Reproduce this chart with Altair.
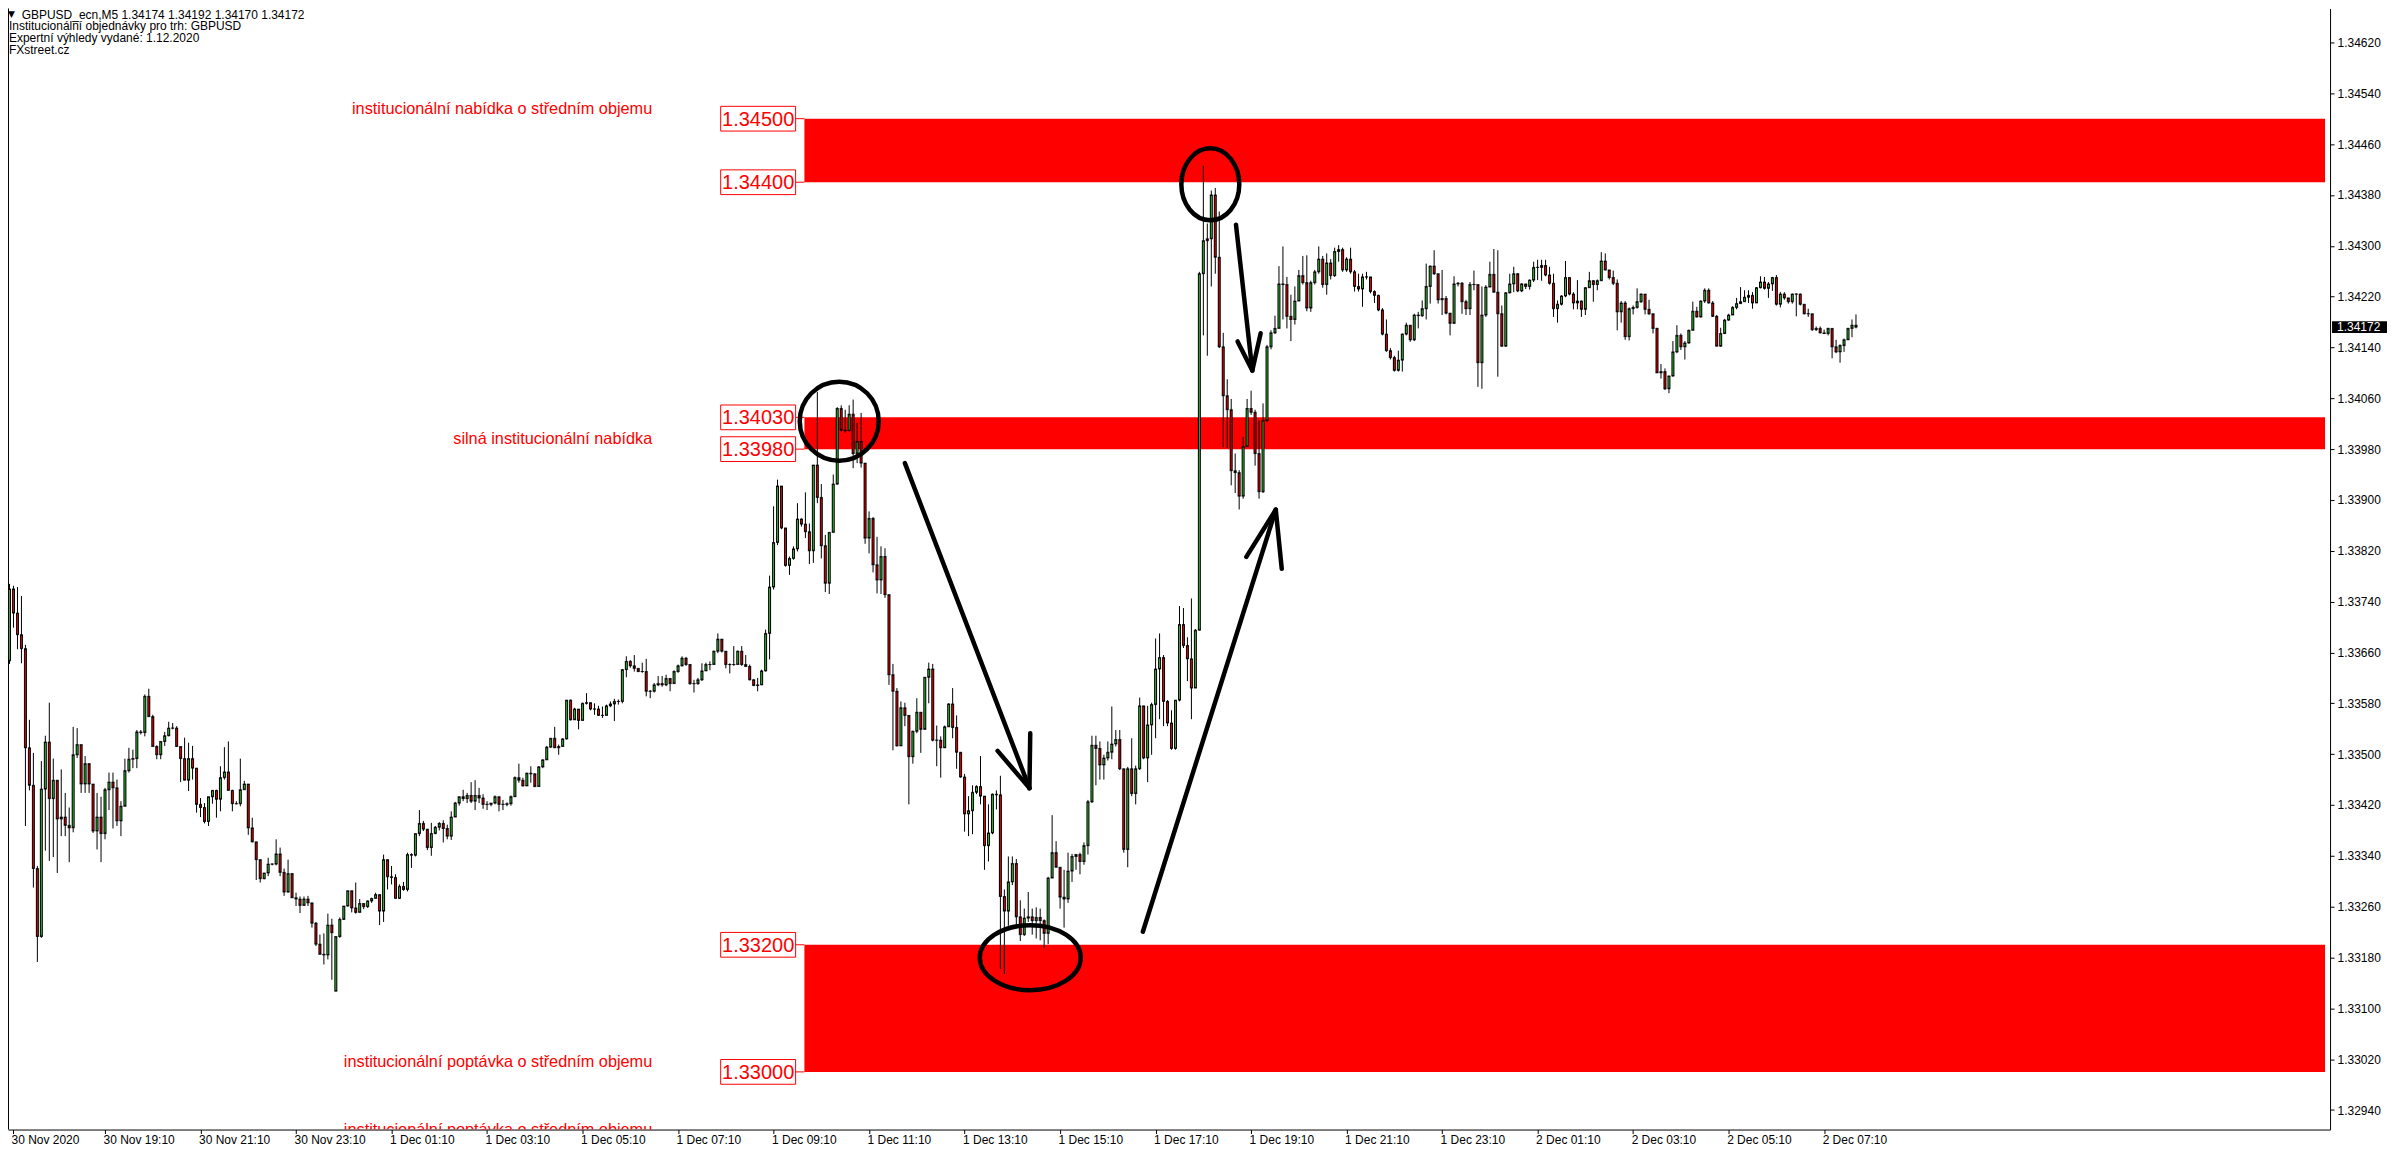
import json
import altair as alt
import pandas as pd

# ---------------- data (prices in 1e-5 units: 33760 -> 1.33760) ----------------
FIRST_OPEN = 33647
OPEN_GAPS = {82: 33127}

CLOSE = [
    33760, 33722, 33688, 33666, 33510, 33451, 33320, 33213, 33445, 33519,
    33430, 33459, 33398, 33401, 33388, 33384, 33499, 33515, 33453, 33485,
    33453, 33379, 33401, 33375, 33444, 33456, 33447, 33395, 33418, 33474,
    33492, 33493, 33535, 33534, 33591, 33559, 33512, 33499, 33520, 33529,
    33541, 33541, 33512, 33493, 33459, 33493, 33478, 33421, 33416, 33394,
    33433, 33443, 33429, 33463, 33472, 33443, 33422, 33422, 33444, 33453,
    33384, 33362, 33334, 33304, 33313, 33327, 33327, 33343, 33314, 33283,
    33312, 33274, 33272, 33262, 33272, 33266, 33234, 33201, 33185, 33184,
    33231, 33219, 33213, 33240, 33261, 33285, 33258, 33251, 33265, 33260,
    33269, 33273, 33279, 33253, 33334, 33307, 33306, 33273, 33292, 33287,
    33342, 33341, 33375, 33391, 33382, 33353, 33375, 33385, 33391, 33383,
    33371, 33401, 33423, 33433, 33430, 33435, 33426, 33435, 33431, 33421,
    33421, 33423, 33433, 33421, 33421, 33422, 33433, 33463, 33459, 33450,
    33470, 33469, 33449, 33480, 33491, 33511, 33525, 33510, 33512, 33524,
    33585, 33554, 33571, 33553, 33580, 33581, 33571, 33571, 33561, 33561,
    33576, 33579, 33583, 33583, 33633, 33646, 33639, 33635, 33630, 33630,
    33599, 33599, 33609, 33611, 33609, 33619, 33611, 33630, 33639, 33651,
    33641, 33611, 33611, 33617, 33631, 33641, 33641, 33662, 33681, 33662,
    33641, 33641, 33641, 33662, 33641, 33638, 33617, 33608, 33609, 33631,
    33690, 33763, 33833, 33922, 33856, 33797, 33808, 33823, 33870, 33862,
    33850, 33820, 33955, 33904, 33828, 33769, 33849, 33925, 34044, 34010,
    34009, 34035, 33973, 33992, 33958, 33840, 33871, 33798, 33774, 33811,
    33751, 33625, 33599, 33513, 33573, 33561, 33496, 33536, 33566, 33539,
    33621, 33634, 33522, 33522, 33510, 33543, 33579,
    33542, 33503, 33464, 33406, 33411, 33440, 33449, 33434, 33356, 33376,
    33437, 33436, 33276, 33253, 33299, 33328, 33244, 33216, 33242, 33244,
    33238, 33243, 33238, 33218, 33305, 33345, 33322, 33275, 33272, 33316,
    33339, 33342, 33331, 33356, 33425, 33514, 33509, 33483, 33494, 33503,
    33516, 33523,
    33477, 33350, 33477, 33438, 33477, 33576, 33494, 33546, 33578, 33634,
    33652, 33583, 33549, 33509, 33585, 33704, 33671, 33650, 33604, 33695,
    34256, 34308, 34311, 34380, 34282, 34141, 34064, 34042, 33946, 33943,
    33906, 33984, 34044, 34038, 33973, 33913, 34025, 34141, 34163, 34170,
    34240, 34239, 34189, 34184, 34213, 34253, 34242, 34202, 34242, 34259,
    34279, 34239, 34273, 34253, 34291, 34294, 34262, 34279, 34259, 34236,
    34232, 34251, 34251, 34228, 34222, 34199, 34161, 34135, 34124, 34104,
    34120,
    34161, 34175, 34152, 34191, 34190, 34201, 34236, 34268, 34256, 34215,
    34217, 34194, 34178, 34240, 34241, 34212, 34201, 34239, 34239, 34116,
    34191, 34235, 34255, 34227, 34193, 34142, 34226, 34240, 34256, 34229,
    34240, 34236, 34246, 34266, 34266, 34269, 34254, 34241, 34201, 34208,
    34221, 34250, 34224, 34210, 34213, 34200, 34234, 34245, 34239, 34245,
    34276, 34262, 34250, 34241, 34196, 34210, 34157, 34201, 34203, 34212,
    34224, 34200, 34193, 34170, 34100, 34102, 34075, 34095, 34133, 34159,
    34141, 34147, 34167, 34197, 34188, 34213, 34230, 34210, 34189, 34142,
    34162, 34183, 34191, 34203, 34209, 34212, 34219, 34222, 34210, 34234,
    34243, 34233, 34240, 34250, 34208, 34224, 34218, 34212, 34224, 34224,
    34208, 34193, 34193, 34168, 34170, 34163, 34162, 34170, 34141, 34133,
    34143, 34152, 34170, 34175, 34172,
]

HIGH = [
    33768, 33765, 33763, 33749, 33672, 33554, 33502, 33324, 33489, 33529,
    33581, 33493, 33459, 33476, 33439, 33416, 33543, 33541, 33511, 33497,
    33486, 33452, 33439, 33433, 33447, 33471, 33471, 33460, 33426, 33493,
    33510, 33507, 33538, 33538, 33594, 33603, 33562, 33514, 33520, 33535,
    33551, 33549, 33544, 33512, 33526, 33518, 33513, 33478, 33431, 33423,
    33433, 33443, 33444, 33481, 33511, 33520, 33444, 33426, 33493, 33458,
    33453, 33400, 33361, 33333, 33313, 33337, 33328, 33366, 33353, 33320,
    33334, 33313, 33282, 33276, 33276, 33277, 33265, 33236, 33216, 33218,
    33249, 33241, 33213, 33243, 33261, 33285, 33285, 33298, 33272, 33265,
    33270, 33274, 33282, 33279, 33342, 33329, 33324, 33311, 33295, 33299,
    33345, 33344, 33375, 33412, 33395, 33379, 33392, 33387, 33393, 33396,
    33389, 33410, 33425, 33433, 33444, 33439, 33456, 33459, 33447, 33437,
    33426, 33423, 33435, 33433, 33428, 33424, 33435, 33465, 33485, 33463,
    33471, 33481, 33470, 33481, 33492, 33513, 33525, 33543, 33515, 33525,
    33585, 33586, 33573, 33570, 33581, 33596, 33581, 33580, 33576, 33575,
    33578, 33583, 33587, 33586, 33634, 33654, 33648, 33656, 33635, 33644,
    33650, 33601, 33612, 33623, 33623, 33625, 33620, 33632, 33641, 33654,
    33653, 33642, 33617, 33620, 33643, 33644, 33646, 33663, 33690, 33681,
    33662, 33643, 33670, 33663, 33670, 33656, 33641, 33618, 33620, 33633,
    33696, 33781, 33890, 33932, 33921, 33854, 33811, 33827, 33895, 33871,
    33912, 33863, 33955, 34070, 33925, 33845, 33849, 33940, 34046, 34049,
    34042, 34049, 34058, 34021, 34037, 33958, 33882, 33873, 33842, 33827,
    33824, 33751, 33642, 33604, 33583, 33581, 33545, 33537, 33588, 33566,
    33621, 33644, 33642, 33545, 33528, 33545, 33580,
    33604, 33561, 33503, 33469, 33434, 33451, 33451, 33497, 33434, 33421,
    33438, 33443, 33466, 33287, 33339, 33339, 33335, 33270, 33257, 33283,
    33257, 33259, 33257, 33240, 33307, 33404, 33363, 33322, 33318, 33345,
    33343, 33343, 33345, 33361, 33428, 33529, 33529, 33520, 33499, 33520,
    33575, 33538,
    33538, 33477, 33480, 33525, 33482, 33589, 33576, 33576, 33581, 33682,
    33690, 33656, 33585, 33569, 33585, 33733, 33730, 33684, 33745, 33697,
    34259, 34426, 34335, 34387, 34391, 34354, 34163, 34090, 34059, 33973,
    33947, 33999, 34059, 34072, 34042, 34025, 34052, 34144, 34167, 34190,
    34268, 34299, 34251, 34223, 34236, 34262, 34284, 34285, 34245, 34262,
    34299, 34284, 34288, 34279, 34297, 34301, 34297, 34282, 34297, 34262,
    34256, 34256, 34259, 34251, 34230, 34223, 34202, 34184, 34139, 34127,
    34135,
    34162, 34179, 34175, 34193, 34196, 34214, 34272, 34269, 34293, 34252,
    34262, 34221, 34194, 34252, 34243, 34243, 34215, 34243, 34261, 34238,
    34236, 34238, 34275, 34295, 34293, 34206, 34227, 34256, 34267, 34257,
    34241, 34240, 34247, 34275, 34278, 34278, 34278, 34267, 34256, 34214,
    34222, 34276, 34250, 34227, 34246, 34214, 34235, 34259, 34246, 34247,
    34290, 34288, 34262, 34261, 34247, 34213, 34213, 34203, 34206, 34233,
    34225, 34224, 34215, 34193, 34171, 34114, 34107, 34096, 34150, 34175,
    34162, 34150, 34168, 34212, 34204, 34214, 34233, 34233, 34213, 34191,
    34171, 34185, 34193, 34205, 34218, 34235, 34230, 34230, 34227, 34235,
    34252, 34251, 34243, 34251, 34254, 34227, 34227, 34218, 34225, 34225,
    34225, 34206, 34201, 34192, 34173, 34173, 34168, 34171, 34170, 34152,
    34145, 34154, 34171, 34184, 34192,
]

LOW = [
    33642, 33699, 33665, 33643, 33387, 33443, 33290, 33173, 33211, 33348,
    33332, 33338, 33313, 33371, 33371, 33330, 33377, 33494, 33439, 33439,
    33439, 33376, 33350, 33330, 33366, 33412, 33383, 33387, 33371, 33418,
    33471, 33478, 33478, 33531, 33528, 33559, 33512, 33492, 33492, 33513,
    33528, 33539, 33512, 33456, 33459, 33442, 33460, 33408, 33401, 33391,
    33387, 33422, 33400, 33410, 33460, 33443, 33410, 33421, 33418, 33444,
    33373, 33361, 33302, 33298, 33303, 33308, 33325, 33325, 33308, 33277,
    33282, 33274, 33261, 33250, 33261, 33261, 33227, 33198, 33185, 33169,
    33177, 33145, 33127, 33211, 33239, 33260, 33251, 33249, 33253, 33256,
    33258, 33266, 33273, 33231, 33236, 33287, 33295, 33273, 33272, 33285,
    33284, 33321, 33339, 33371, 33379, 33349, 33340, 33374, 33380, 33361,
    33366, 33365, 33401, 33419, 33426, 33423, 33423, 33412, 33423, 33414,
    33412, 33418, 33421, 33410, 33412, 33418, 33419, 33433, 33455, 33449,
    33450, 33455, 33448, 33449, 33478, 33491, 33510, 33510, 33499, 33512,
    33523, 33553, 33554, 33539, 33553, 33578, 33569, 33562, 33560, 33557,
    33565, 33574, 33552, 33578, 33580, 33621, 33636, 33630, 33629, 33628,
    33591, 33588, 33597, 33607, 33606, 33607, 33599, 33611, 33628, 33638,
    33639, 33609, 33597, 33609, 33615, 33632, 33632, 33641, 33659, 33660,
    33635, 33627, 33639, 33641, 33639, 33637, 33616, 33607, 33599, 33609,
    33630, 33649, 33759, 33829, 33854, 33795, 33782, 33806, 33819, 33858,
    33840, 33799, 33801, 33895, 33808, 33755, 33752, 33849, 33924, 34008,
    34006, 34008, 33950, 33958, 33951, 33831, 33816, 33786, 33753, 33752,
    33746, 33609, 33506, 33512, 33513, 33544, 33421, 33485, 33533, 33502,
    33539, 33580, 33520, 33481, 33463, 33510, 33543,
    33525, 33477, 33463, 33378, 33371, 33374, 33437, 33421, 33318, 33331,
    33374, 33413, 33162, 33154, 33230, 33294, 33231, 33206, 33214, 33236,
    33216, 33210, 33207, 33195, 33201, 33305, 33322, 33257, 33227, 33266,
    33299, 33318, 33311, 33326, 33342, 33423, 33451, 33460, 33460, 33490,
    33492, 33512,
    33475, 33345, 33322, 33434, 33421, 33475, 33492, 33456, 33499, 33525,
    33555, 33544, 33544, 33507, 33507, 33583, 33667, 33615, 33555, 33604,
    33695, 34159, 34127, 34236, 34256, 34139, 33983, 33982, 33923, 33911,
    33885, 33902, 33984, 34034, 33954, 33902, 33911, 34023, 34137, 34161,
    34170, 34184, 34170, 34150, 34176, 34213, 34239, 34197, 34196, 34239,
    34256, 34234, 34223, 34247, 34251, 34275, 34259, 34259, 34256, 34228,
    34228, 34204, 34247, 34225, 34210, 34197, 34159, 34133, 34121, 34102,
    34102,
    34102, 34159, 34149, 34150, 34170, 34188, 34184, 34209, 34254, 34209,
    34191, 34192, 34159, 34177, 34236, 34193, 34191, 34191, 34230, 34078,
    34075, 34188, 34240, 34226, 34094, 34141, 34141, 34225, 34227, 34227,
    34227, 34232, 34231, 34243, 34246, 34245, 34252, 34239, 34188, 34179,
    34206, 34219, 34222, 34200, 34200, 34188, 34191, 34238, 34212, 34230,
    34245, 34261, 34247, 34238, 34167, 34179, 34152, 34151, 34192, 34201,
    34210, 34192, 34191, 34162, 34100, 34091, 34073, 34068, 34094, 34131,
    34136, 34121, 34146, 34167, 34187, 34187, 34210, 34209, 34188, 34142,
    34141, 34161, 34182, 34191, 34200, 34210, 34212, 34210, 34201, 34210,
    34233, 34231, 34218, 34229, 34206, 34203, 34215, 34209, 34209, 34189,
    34206, 34192, 34188, 34166, 34166, 34162, 34161, 34159, 34123, 34131,
    34116, 34133, 34152, 34156, 34170,
]

X_LABELS = [
    "30 Nov 2020", "30 Nov 19:10", "30 Nov 21:10", "30 Nov 23:10",
    "1 Dec 01:10", "1 Dec 03:10", "1 Dec 05:10", "1 Dec 07:10",
    "1 Dec 09:10", "1 Dec 11:10", "1 Dec 13:10", "1 Dec 15:10",
    "1 Dec 17:10", "1 Dec 19:10", "1 Dec 21:10", "1 Dec 23:10",
    "2 Dec 01:10", "2 Dec 03:10", "2 Dec 05:10", "2 Dec 07:10",
]
Y_TICKS = [
    1.32940, 1.33020, 1.33100, 1.33180, 1.33260, 1.33340, 1.33420, 1.33500,
    1.33580, 1.33660, 1.33740, 1.33820, 1.33900, 1.33980, 1.34060, 1.34140,
    1.34220, 1.34300, 1.34380, 1.34460, 1.34540, 1.34620,
]

ZONE_LO = [1.33000, 1.33980, 1.34400]
ZONE_HI = [1.33200, 1.34030, 1.34500]
ZONE_START = 199.75

EDGE_PRICES = [1.34500, 1.34400, 1.34030, 1.33980, 1.33200, 1.33000]
EDGE_TEXT = ["1.34500", "1.34400", "1.34030", "1.33980", "1.33200", "1.33000"]

ZONE_LABELS = [
    "institucionální nabídka o středním objemu",
    "silná institucionální nabídka",
    "institucionální poptávka o středním objemu",
    "institucionální poptávka o středním objemu",
]
ZONE_LABEL_PRICES = [1.34500, 1.33980, 1.33000, 1.32893]

ELLIPSE_X = [208.5, 301.75, 256.5]
ELLIPSE_P = [1.34024, 1.343967, 1.331797]
ELLIPSE_RX = [39.5, 29.0, 50.5]
ELLIPSE_RY = [39.5, 36.0, 32.5]

# arrow segments (shaft + two head strokes for each arrow), in bar index / price
SEG_X1 = [225.0, 248.3, 256.5, 284.8, 310.8, 319.7, 308.2, 308.6, 314.4]
SEG_P1 = [1.339580, 1.335052, 1.335329, 1.332206, 1.338105, 1.337917, 1.343332, 1.341495, 1.341624]
SEG_X2 = [256.3, 256.3, 256.3, 318.2, 318.2, 318.2, 312.3, 312.3, 312.3]
SEG_P2 = [1.334465, 1.334465, 1.334465, 1.338847, 1.338847, 1.338847, 1.341038, 1.341038, 1.341038]

LAST_PRICE = 1.34172
LAST_TEXT = "1.34172"

HEADER = [
    "GBPUSD_ecn,M5  1.34174 1.34192 1.34170 1.34172",
    "Institucionální objednávky pro trh: GBPUSD",
    "Expertní výhledy vydané: 1.12.2020",
    "FXstreet.cz",
]

GREEN = "#30B430"
RED = "#E00000"

# ---------------- layout ----------------
W, H = 2324, 1122
X_DOMAIN = [0.875, 581.875]
Y_DOMAIN = [1.3290928, 1.3467343]
xs = alt.Scale(domain=X_DOMAIN, nice=False, zero=False)
ys = alt.Scale(domain=Y_DOMAIN, nice=False, zero=False)

x_axis = alt.Axis(
    values=[0.875] + [24 * k for k in range(1, len(X_LABELS))],
    labelExpr=json.dumps(X_LABELS) + "[round(datum.value / 24)]",
    title=None, grid=False, orient="bottom", labelAlign="left", labelBaseline="top",
    tickSize=4, labelPadding=1, labelOffset=-2, labelFlush=False, labelOverlap=False,
    labelBound=False,
)
y_axis = alt.Axis(
    values=Y_TICKS, format=".5f", orient="right", title=None, grid=False,
    tickSize=4, labelPadding=3, labelFlush=False, labelOverlap=False, labelBound=False,
)


def X(f):
    return alt.X(f, type="quantitative", scale=xs, axis=x_axis)


def Y(f):
    return alt.Y(f, type="quantitative", scale=ys, axis=y_axis)


# ---------------- candle table ----------------
n = min(len(CLOSE), len(HIGH), len(LOW))
rows = []
for k in range(n):
    if k == 0:
        o = FIRST_OPEN
    elif k in OPEN_GAPS:
        o = OPEN_GAPS[k]
    else:
        o = CLOSE[k - 1]
    c = CLOSE[k]
    po, pc = 1 + o / 1e5, 1 + c / 1e5
    ph, pl = 1 + HIGH[k] / 1e5, 1 + LOW[k] / 1e5
    rows.append({
        "i": k, "o": po, "c": pc,
        "hi": max(ph, po, pc), "lo": min(pl, po, pc),
        "top": max(po, pc), "bot": min(po, pc),
        "col": GREEN if c > o else (RED if c < o else "black"),
    })
cdf = pd.DataFrame(rows)

zones = pd.DataFrame({"x1": [ZONE_START] * 3, "x2": [X_DOMAIN[1]] * 3, "lo": ZONE_LO, "hi": ZONE_HI})
edges = pd.DataFrame({"p": EDGE_PRICES, "t": EDGE_TEXT, "xa": [197.5] * 6, "xb": [ZONE_START] * 6,
                      "xc": [188.125] * 6})
zlab = pd.DataFrame({"p": ZONE_LABEL_PRICES, "t": ZONE_LABELS, "x": [161.5] * 4})


def ellipse_path(rx, ry):
    r = max(rx, ry)
    a, b = rx / r, ry / r
    return f"M{-a},0A{a},{b},0,1,1,{a},0A{a},{b},0,1,1,{-a},0Z"


ell = pd.DataFrame({
    "x": ELLIPSE_X, "p": ELLIPSE_P,
    "shape": [ellipse_path(rx, ry) for rx, ry in zip(ELLIPSE_RX, ELLIPSE_RY)],
    "size": [(2 * max(rx, ry)) ** 2 for rx, ry in zip(ELLIPSE_RX, ELLIPSE_RY)],
})
segs = pd.DataFrame({"x1": SEG_X1, "p1": SEG_P1, "x2": SEG_X2, "p2": SEG_P2})

BOX_PATH = "M-1,-0.33L1,-0.33L1,0.33L-1,0.33Z"
PBOX_PATH = "M-1,-0.21L1,-0.21L1,0.21L-1,0.21Z"
LAB_FONT = "Liberation Sans"

# ---------------- layers ----------------
zone_layer = alt.Chart(zones).mark_rect(color="#FF0000").encode(
    x=X("x1"), x2=alt.X2("x2"), y=Y("lo"), y2=alt.Y2("hi"))

conn_layer = alt.Chart(edges).mark_rule(color="#FF0000", strokeWidth=1).encode(
    x=X("xa"), x2=alt.X2("xb"), y=Y("p"))

box_layer = alt.Chart(edges).mark_point(
    shape=BOX_PATH, size=5625, filled=True, fill="white", stroke="#FF0000",
    strokeWidth=1, opacity=1).encode(x=X("xc"), y=Y("p"))

box_text = alt.Chart(edges).mark_text(
    font=LAB_FONT, fontSize=20, color="#FF0000", align="center", baseline="middle", dy=1
).encode(x=X("xc"), y=Y("p"), text="t:N")

zone_text = alt.Chart(zlab).mark_text(
    font=LAB_FONT, fontSize=16.3, color="#FF0000", align="right", baseline="alphabetic",
    dy=-5, clip=True).encode(x=X("x"), y=Y("p"), text="t:N")

wick = alt.Chart(cdf).mark_rule(color="black", strokeWidth=1).encode(
    x=X("i"), y=Y("lo"), y2=alt.Y2("hi"))

body = alt.Chart(cdf).mark_bar(size=3, color="black").encode(
    x=X("i"), y=Y("top"), y2=alt.Y2("bot"))

inner = alt.Chart(cdf).transform_filter("datum.top - datum.bot > 0.00004").mark_bar(
    size=1, yOffset=1, y2Offset=-1).encode(
    x=X("i"), y=Y("top"), y2=alt.Y2("bot"), color=alt.Color("col:N", scale=None))

tick_o = alt.Chart(cdf).mark_tick(orient="horizontal", size=3, thickness=1, color="black").encode(
    x=X("i"), y=Y("o"))
tick_c = alt.Chart(cdf).mark_tick(orient="horizontal", size=3, thickness=1, color="black").encode(
    x=X("i"), y=Y("c"))

ell_layer = alt.Chart(ell).mark_point(
    filled=False, stroke="black", strokeWidth=4.5, opacity=1).encode(
    x=X("x"), y=Y("p"), shape=alt.Shape("shape:N", scale=None), size=alt.Size("size:Q", scale=None))

arrow_layer = alt.Chart(segs).mark_rule(color="black", strokeWidth=4.5, strokeCap="round").encode(
    x=X("x1"), x2=alt.X2("x2"), y=Y("p1"), y2=alt.Y2("p2"))

# left frame line (the chart window has no top border)
left_frame = alt.Chart(pd.DataFrame({"a": [0]})).mark_rule(color="black", strokeWidth=1).encode(
    x=alt.value(0.5), y=alt.value(0), y2=alt.value(H))

last_df = pd.DataFrame({"p": [LAST_PRICE], "t": [LAST_TEXT]})
last_box = alt.Chart(last_df).mark_point(
    shape=PBOX_PATH, size=3025, filled=True, fill="black", strokeWidth=0, opacity=1
).encode(x=alt.value(W + 29.5), y=Y("p"))
last_txt = alt.Chart(last_df).mark_text(
    font=LAB_FONT, fontSize=12, color="white", align="left", baseline="middle"
).encode(x=alt.value(W + 7), y=Y("p"), text="t:N")

header_layers = []
hx = [13.7, 1, 1, 1]
hy = [6.2, 17.8, 29.2, 41.6]
for t, px, py in zip(HEADER, hx, hy):
    header_layers.append(
        alt.Chart(pd.DataFrame({"t": [t]})).mark_text(
            font=LAB_FONT, fontSize=12, color="black", align="left", baseline="middle"
        ).encode(x=alt.value(px), y=alt.value(py), text="t:N"))
header_layers.append(
    alt.Chart(pd.DataFrame({"t": ["\u25bc"]})).mark_text(
        font="DejaVu Sans", fontSize=9, color="black", align="center", baseline="middle"
    ).encode(x=alt.value(3.5), y=alt.value(5.5), text="t:N"))

chart = alt.layer(
    zone_layer, conn_layer, box_layer, box_text, zone_text,
    wick, body, inner, tick_o, tick_c,
    ell_layer, arrow_layer, left_frame, last_box, last_txt, *header_layers,
).properties(
    width=W, height=H,
    autosize=alt.AutoSizeParams(type="none"),
    padding={"left": 0, "top": 0, "right": 58, "bottom": 16},
    background="white",
).configure_view(
    strokeWidth=0
).configure_axis(
    labelFont=LAB_FONT, labelFontSize=12, labelColor="black",
    tickColor="black", domainColor="black", domainWidth=1, tickWidth=1,
)

chart.save("out.html", embed_options={"renderer": "svg", "actions": False})
